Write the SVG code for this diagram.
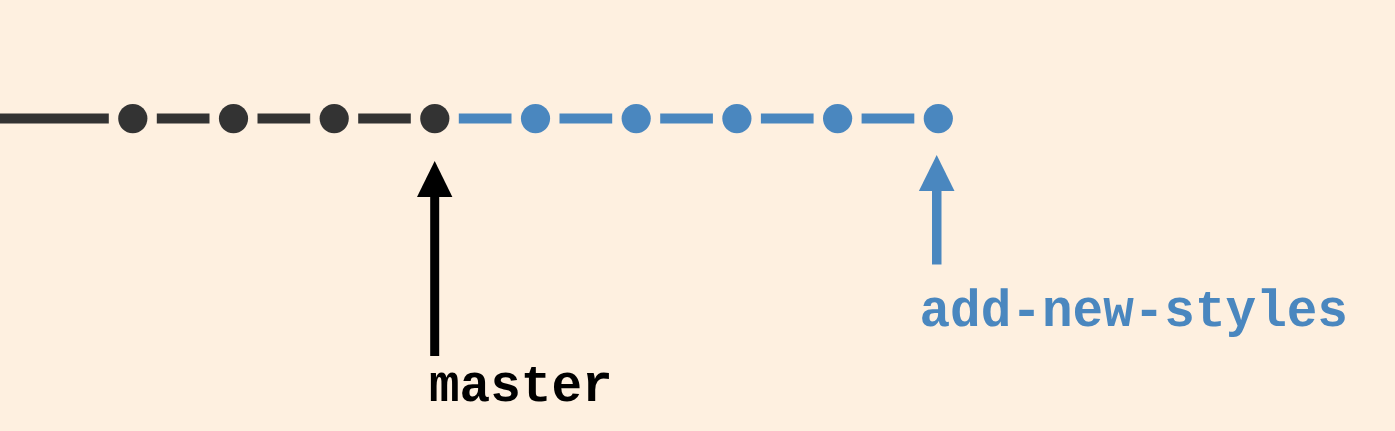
<svg xmlns="http://www.w3.org/2000/svg" width="1395" height="431" viewBox="0 0 1395 431">
<style>
.bg{fill:#FEF0E0}
.dk{stroke:#333333;stroke-width:10;fill:none}
.bl{stroke:#4A87BF;stroke-width:10;fill:none}
.dkd{fill:#333333}
.bld{fill:#4A87BF}
.lbl{font-family:"Liberation Mono","Courier New",monospace;font-weight:bold;font-size:51px}
</style>
<rect class="bg" x="0" y="0" width="1395" height="431"/>
<g id="connectors">
<line class="dk" x1="0" y1="118.5" x2="108.8" y2="118.5"/>
<line class="dk" x1="156.8" y1="118.5" x2="209.5" y2="118.5"/>
<line class="dk" x1="257.5" y1="118.5" x2="310.2" y2="118.5"/>
<line class="dk" x1="358.2" y1="118.5" x2="410.8" y2="118.5"/>
<line class="bl" x1="458.8" y1="118.5" x2="511.5" y2="118.5"/>
<line class="bl" x1="559.5" y1="118.5" x2="612.2" y2="118.5"/>
<line class="bl" x1="660.2" y1="118.5" x2="712.9" y2="118.5"/>
<line class="bl" x1="760.9" y1="118.5" x2="813.6" y2="118.5"/>
<line class="bl" x1="861.6" y1="118.5" x2="914.3" y2="118.5"/>
<g id="master-pointer">
<rect x="430.2" y="195" width="9" height="161" fill="#000000"/>
<polygon points="434.7,161 452.4,197 417,197" fill="#000000"/>
</g>
<g id="branch-pointer">
<rect x="932" y="189" width="9.5" height="75.5" fill="#4A87BF"/>
<polygon points="936.7,155 954.5,191 918.9,191" fill="#4A87BF"/>
</g>
</g>
<g id="c1"><circle class="dkd" cx="132.8" cy="118.6" r="14.6"/></g>
<g id="c2"><circle class="dkd" cx="233.5" cy="118.6" r="14.6"/></g>
<g id="c3"><circle class="dkd" cx="334.2" cy="118.6" r="14.6"/></g>
<g id="c4"><circle class="dkd" cx="434.8" cy="118.6" r="14.6"/></g>
<g id="c5"><circle class="bld" cx="535.5" cy="118.6" r="14.6"/></g>
<g id="c6"><circle class="bld" cx="636.2" cy="118.6" r="14.6"/></g>
<g id="c7"><circle class="bld" cx="736.9" cy="118.6" r="14.6"/></g>
<g id="c8"><circle class="bld" cx="837.6" cy="118.6" r="14.6"/></g>
<g id="c9"><circle class="bld" cx="938.3" cy="118.6" r="14.6"/></g>
<g id="label-master"><text class="lbl" x="429" y="400.5" fill="#000000">master</text></g>
<g id="label-branch"><text class="lbl" x="919.5" y="325.5" fill="#4A87BF">add-new-styles</text></g>
</svg>
